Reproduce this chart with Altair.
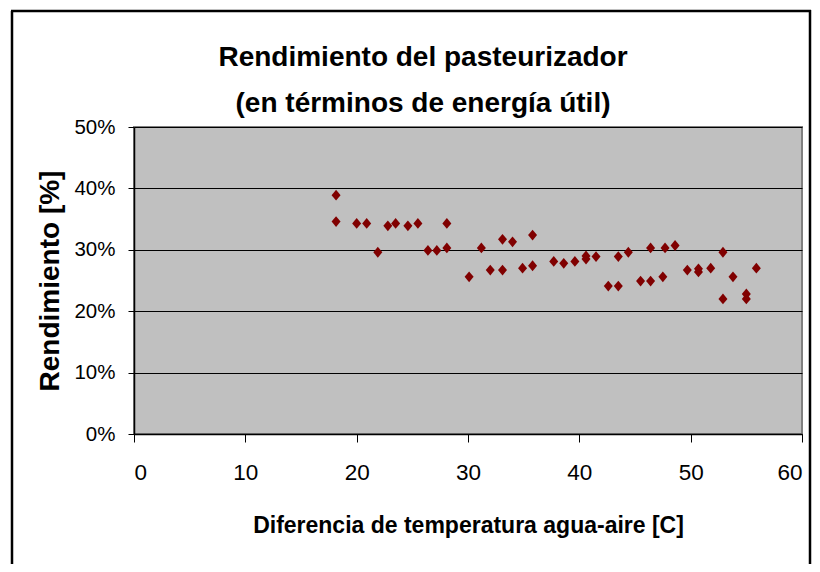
import altair as alt
import pandas as pd

# Diferencia de temperatura agua-aire [C]
dif_temp = [18.15, 18.15, 20.0, 20.9, 21.9, 22.8, 23.5, 24.6, 25.5, 26.4, 27.2, 28.1,
            28.1, 30.1, 31.2, 32.0, 33.1, 33.1, 34.0, 34.9, 35.8, 35.8, 37.7, 38.6,
            39.6, 40.6, 40.6, 41.5, 42.6, 43.5, 43.5, 44.4, 45.5, 46.4, 46.4, 47.5,
            47.7, 48.6, 49.7, 50.7, 50.7, 51.8, 52.9, 52.9, 53.8, 55.0, 55.0, 55.9]
# Rendimiento [%]
rendimiento = [38.9, 34.6, 34.3, 34.3, 29.6, 33.9, 34.3, 33.9, 34.3, 29.9, 29.9, 30.3,
               34.3, 25.6, 30.3, 26.7, 31.7, 26.7, 31.3, 27.0, 27.4, 32.4, 28.1, 27.8,
               28.1, 28.5, 29.0, 28.9, 24.1, 24.1, 28.9, 29.6, 24.9, 24.9, 30.3, 25.6,
               30.3, 30.7, 26.7, 26.9, 26.4, 27.0, 29.6, 22.0, 25.6, 22.8, 22.0, 27.0]

x_ticks = [0, 10, 20, 30, 40, 50, 60]
y_ticks = [0, 0.1, 0.2, 0.3, 0.4, 0.5]

df = pd.DataFrame({"x": dif_temp, "y": [v / 100 for v in rendimiento]})

W, H = 668, 307
FONT = "Liberation Sans"

points = alt.Chart(df).mark_point(
    shape="M0,-1.2L1,0L0,1.2L-1,0Z", filled=True, size=81, color="#800000", opacity=1
).encode(
    x=alt.X("x:Q", scale=alt.Scale(domain=[0, 60], nice=False),
            axis=alt.Axis(values=x_ticks, title="Diferencia de temperatura agua-aire [C]",
                          grid=False, tickSize=8, labelPadding=19,
                          labelFont=FONT, labelFontSize=22.5,
                          titleFont=FONT, titleFontSize=23, titleFontWeight="bold",
                          titlePadding=31)),
    y=alt.Y("y:Q", scale=alt.Scale(domain=[0, 0.5], nice=False),
            axis=alt.Axis(values=y_ticks, format=".0%", title="Rendimiento [%]",
                          grid=True, gridColor="black", gridWidth=1,
                          tickSize=6, labelPadding=13,
                          labelFont=FONT, labelFontSize=20.5,
                          titleFont=FONT, titleFontSize=28,
                          titleFontWeight="bold", titleX=-84, titleY=H / 2,
                          titleBaseline="middle", titleAlign="center")),
)

frame_src = alt.Data(values=[{"k": 1}])
frame_left = alt.Chart(frame_src).mark_rule(color="black", strokeWidth=2.5).encode(
    x=alt.value(-122), y=alt.value(-116), y2=alt.value(H + 135))
frame_top = alt.Chart(frame_src).mark_rule(color="black", strokeWidth=2.5).encode(
    x=alt.value(-123), x2=alt.value(W + 9), y=alt.value(-116))
frame_right = alt.Chart(frame_src).mark_rule(color="black", strokeWidth=2.5).encode(
    x=alt.value(W + 8), y=alt.value(-117), y2=alt.value(H + 135))

chart = alt.layer(frame_left, frame_top, frame_right, points).properties(
    width=W, height=H,
    autosize=alt.AutoSizeParams(type="none"),
    padding={"left": 126, "top": 119, "right": 10, "bottom": 130},
    background="white",
    title=alt.Title(text=["Rendimiento del pasteurizador", "(en términos de energía útil)"],
                    font=FONT, fontSize=28, fontWeight="bold", color="black",
                    lineHeight=46, anchor="middle", dx=-45, offset=12, dy=121),
).configure_view(
    fill="#C0C0C0", stroke="#808080", strokeWidth=2
).configure_axis(
    domainColor="black", tickColor="black", labelColor="black", titleColor="black",
    domainWidth=1.5
)

chart.save("out.html", embed_options={"renderer": "svg", "actions": False})
